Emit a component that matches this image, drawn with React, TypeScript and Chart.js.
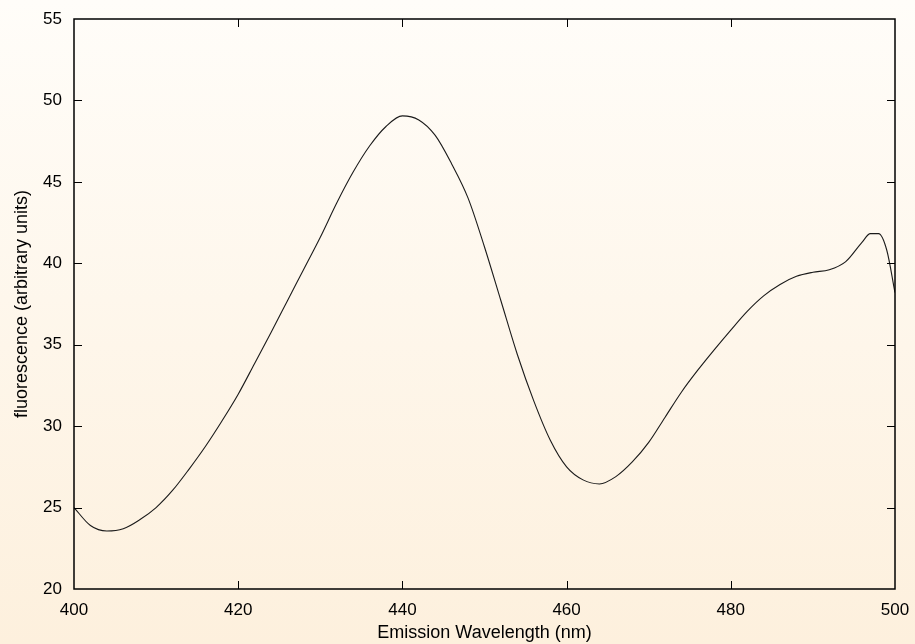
import React, { useEffect, useRef } from "react";
import { Chart, registerables } from "chart.js";

Chart.register(...registerables);

const wavelengths: number[] = [
  400, 402, 404, 406, 408, 410, 412, 414, 416, 418,
  420, 422, 424, 426, 428, 430, 432, 434, 436, 438,
  440, 442, 444, 446, 448, 450, 452, 454, 456, 458,
  460, 462, 464, 466, 468, 470, 472, 474, 476, 478,
  480, 482, 484, 486, 488, 490, 492, 494, 496, 497,
  498, 499, 500,
];

const fluorescence: number[] = [
  25.0, 23.9, 23.56, 23.7, 24.25, 25.0, 26.05, 27.35, 28.75, 30.3,
  31.96, 33.85, 35.75, 37.7, 39.65, 41.6, 43.7, 45.6, 47.2, 48.4,
  49.05, 48.8, 47.85, 46.1, 44.0, 41.0, 37.7, 34.4, 31.55, 29.15,
  27.5, 26.7, 26.45, 26.9, 27.8, 29.0, 30.55, 32.1, 33.45, 34.7,
  35.9, 37.05, 38.0, 38.7, 39.2, 39.45, 39.6, 40.1, 41.3, 41.82,
  41.82, 40.8, 38.2,
];

const xTicks: number[] = [400, 420, 440, 460, 480, 500];
const yTicks: number[] = [20, 25, 30, 35, 40, 45, 50, 55];

const xTitle = "Emission Wavelength (nm)";
const yTitle = "fluorescence (arbitrary units)";

const FONT = "'Liberation Sans', Arial, Helvetica, sans-serif";

const frameTicks = {
  id: "frameTicks",
  afterDatasetsDraw(chart: any) {
    const { ctx, chartArea, scales } = chart;
    const { left, right, top, bottom } = chartArea;
    const len = 8;
    ctx.save();
    ctx.strokeStyle = "#000";
    ctx.lineWidth = 1;
    ctx.beginPath();
    for (const v of xTicks) {
      const px = Math.round(scales.x.getPixelForValue(v)) + 0.5;
      if (v !== xTicks[0] && v !== xTicks[xTicks.length - 1]) {
        ctx.moveTo(px, bottom);
        ctx.lineTo(px, bottom - len);
        ctx.moveTo(px, top);
        ctx.lineTo(px, top + len);
      }
    }
    for (const v of yTicks) {
      const py = Math.round(scales.y.getPixelForValue(v)) + 0.5;
      if (v !== yTicks[0] && v !== yTicks[yTicks.length - 1]) {
        ctx.moveTo(left, py);
        ctx.lineTo(left + len, py);
        ctx.moveTo(right, py);
        ctx.lineTo(right - len, py);
      }
    }
    ctx.stroke();
    ctx.lineWidth = 1.5;
    ctx.strokeRect(left, top, right - left, bottom - top);
    ctx.restore();
  },
};

export default function App() {
  const canvasRef = useRef<HTMLCanvasElement | null>(null);

  useEffect(() => {
    if (!canvasRef.current) return;
    const chart = new Chart(canvasRef.current, {
      type: "line",
      data: {
        datasets: [
          {
            data: wavelengths.map((w, i) => ({ x: w, y: fluorescence[i] })),
            borderColor: "#1a1a1a",
            borderWidth: 1.1,
            pointRadius: 0,
            fill: false,
            cubicInterpolationMode: "monotone",
          },
        ],
      },
      options: {
        animation: false,
        responsive: true,
        maintainAspectRatio: false,
        layout: { padding: { top: 19, right: 20, left: 0, bottom: 0 } },
        plugins: {
          legend: { display: false },
          tooltip: { enabled: false },
        },
        scales: {
          x: {
            type: "linear",
            min: 400,
            max: 500,
            afterFit: (s: any) => {
              s.height = 55;
              s.paddingLeft = 0;
              s.paddingRight = 0;
            },
            afterBuildTicks: (s: any) => {
              s.ticks = xTicks.map((v) => ({ value: v }));
            },
            grid: { display: false, drawTicks: false },
            border: { display: false },
            ticks: {
              padding: 11,
              color: "#000",
              maxRotation: 0,
              font: { family: FONT, size: 17 },
            },
            title: {
              display: true,
              text: xTitle,
              color: "#000",
              font: { family: FONT, size: 18 },
              padding: { top: 0, bottom: 0 },
            },
          },
          y: {
            type: "linear",
            min: 20,
            max: 55,
            afterFit: (s: any) => {
              s.width = 74;
              s.paddingTop = 0;
              s.paddingBottom = 0;
            },
            afterBuildTicks: (s: any) => {
              s.ticks = yTicks.map((v) => ({ value: v }));
            },
            grid: { display: false, drawTicks: false },
            border: { display: false },
            ticks: {
              padding: 12,
              color: "#000",
              font: { family: FONT, size: 17 },
            },
            title: {
              display: true,
              text: yTitle,
              color: "#000",
              font: { family: FONT, size: 18 },
              padding: { top: 11, bottom: 0 },
            },
          },
        },
      },
      plugins: [frameTicks],
    });
    return () => chart.destroy();
  }, []);

  return (
    <div
      style={{
        position: "absolute",
        left: 0,
        top: 0,
        width: 915,
        height: 644,
        background: "linear-gradient(to bottom, #fffdf9 0%, #fdf0dd 100%)",
      }}
    >
      <canvas ref={canvasRef} />
    </div>
  );
}
